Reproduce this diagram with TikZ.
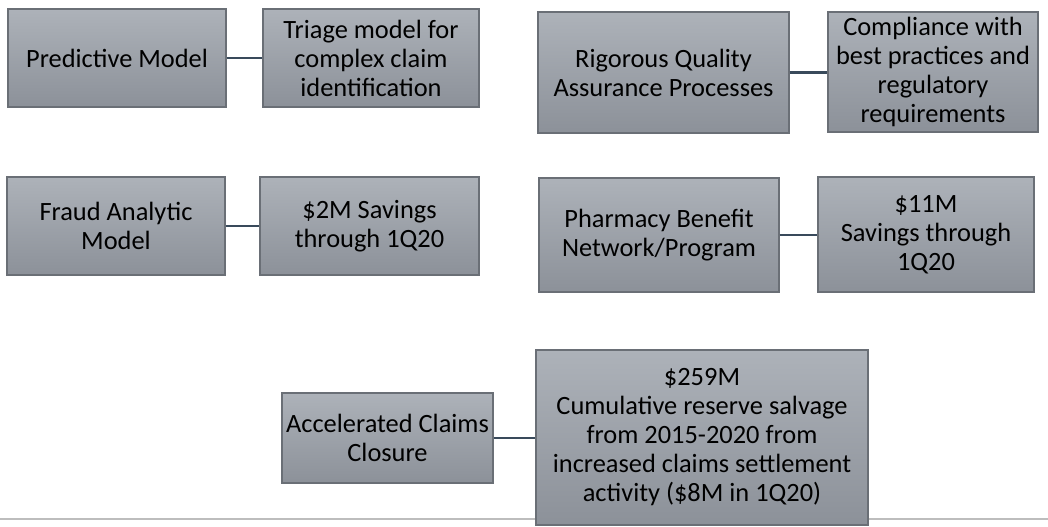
\documentclass[tikz,border=0pt]{standalone}
\usepackage{fontspec}
\setmainfont{Carlito}
\definecolor{boxtop}{HTML}{ADB2B9}
\definecolor{boxbot}{HTML}{8C9199}
\definecolor{boxborder}{HTML}{6A6F76}
\definecolor{connc}{HTML}{394A5B}
\definecolor{rulec}{HTML}{BDBDBD}
\newcommand\boxfont{\fontsize{19.8}{21.75}\selectfont}
\tikzset{
  box/.style={draw=boxborder, line width=0.9pt, top color=boxtop, bottom color=boxbot,
    font=\boxfont, align=center, inner sep=0pt, text=black},
  conn/.style={draw=connc, line width=1.6pt},
}
\begin{document}
\begin{tikzpicture}[x=0.75pt,y=-0.75pt]
\useasboundingbox (0,0) rectangle (1048,527);
\fill[white] (0,0) rectangle (1048,527);
% bottom rule
\coordinate (rl) at (0,519);
\coordinate (rr) at (1048,519);
\draw[rulec, line width=1.5pt] (rl) -- (rr);
% row 1
\node[box, minimum width=218*0.75pt, minimum height=98*0.75pt] (pm) at (117,58) {Predictive Model};
\node[box, minimum width=216*0.75pt, minimum height=98*0.75pt] (tm) at (371,58) {Triage model for\\complex claim\\identification};
\node[box, minimum width=251*0.75pt, minimum height=121*0.75pt] (qa) at (663.5,72.5) {Rigorous Quality\\Assurance Processes};
\node[box, minimum width=210*0.75pt, minimum height=120*0.75pt] (cw) at (933,72) {Compliance with\\best practices and\\regulatory\\requirements};
% row 2
\node[box, minimum width=218*0.75pt, minimum height=98*0.75pt] (fa) at (116,226) {Fraud Analytic\\Model};
\node[box, minimum width=219*0.75pt, minimum height=98*0.75pt] (sv) at (369.5,226) {\$2M Savings\\through 1Q20};
\node[box, minimum width=240*0.75pt, minimum height=114*0.75pt] (pb) at (659,235) {Pharmacy Benefit\\Network/Program};
\node[box, minimum width=216*0.75pt, minimum height=115*0.75pt] (ps) at (926,234.5) {\$11M\\Savings through\\1Q20};
% row 3
\node[box, minimum width=211*0.75pt, minimum height=90*0.75pt] (ac) at (387.5,438) {Accelerated Claims\\Closure};
\node[box, minimum width=332*0.75pt, minimum height=175*0.75pt] (rs) at (702,437.5) {\$259M\\Cumulative reserve salvage\\from 2015-2020 from\\increased claims settlement\\activity (\$8M in 1Q20)};
% connectors
\draw[conn] (pm.east) -- (pm.east -| tm.west);
\draw[conn] (qa.east) -- (qa.east -| cw.west);
\draw[conn] (fa.east) -- (fa.east -| sv.west);
\draw[conn] (pb.east) -- (pb.east -| ps.west);
\draw[conn] (ac.east) -- (ac.east -| rs.west);
\end{tikzpicture}
\end{document}
